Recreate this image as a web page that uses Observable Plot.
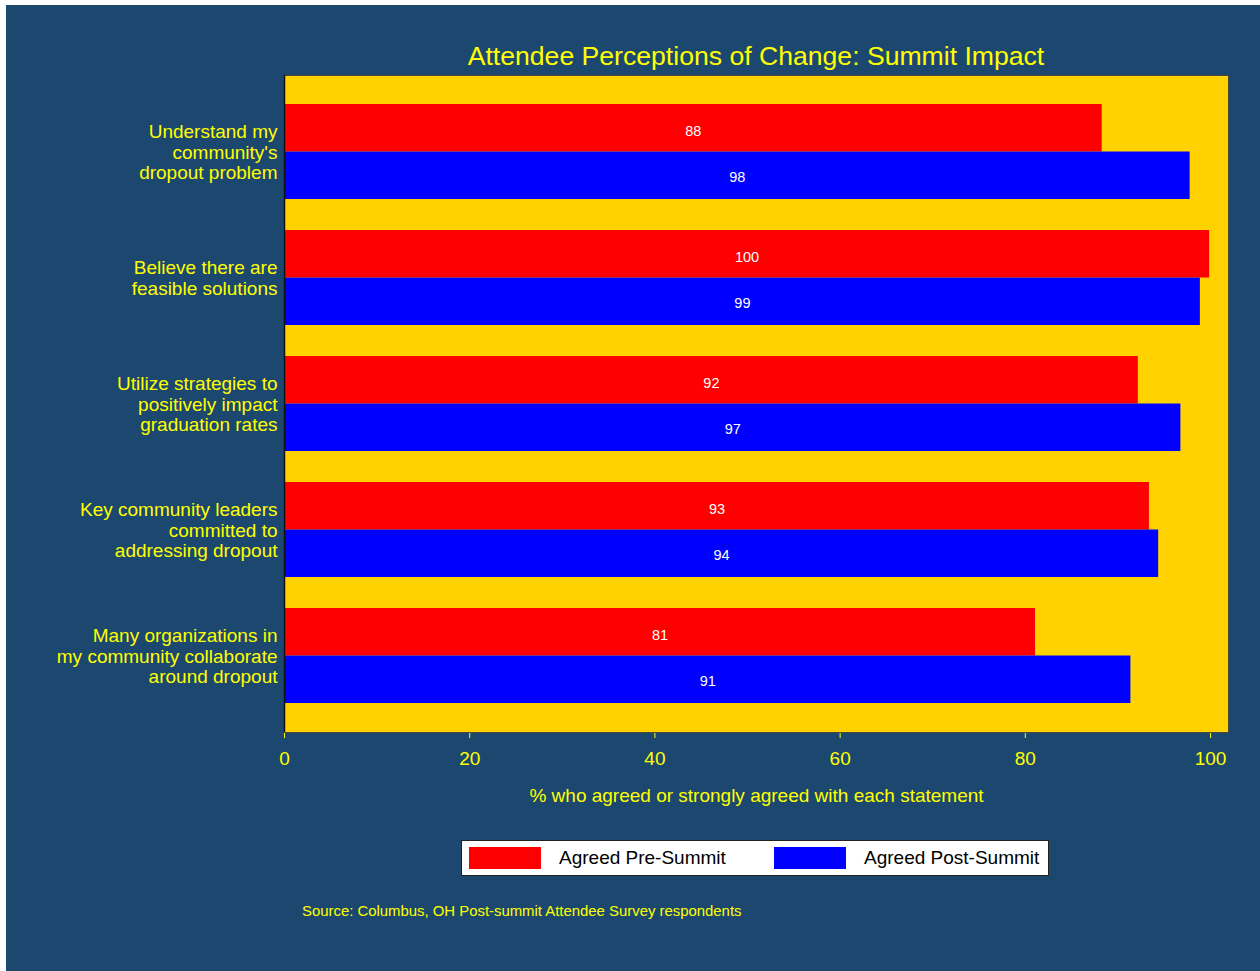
<!DOCTYPE html>
<html>
<head>
<meta charset="utf-8">
<script src="https://cdn.jsdelivr.net/npm/d3@7"></script>
<script src="https://cdn.jsdelivr.net/npm/@observablehq/plot@0.6"></script>
<style>
  html, body { margin: 0; padding: 0; background: #ffffff; }
  body { width: 1260px; height: 971px; overflow: hidden; position: relative; font-family: "Liberation Sans", Arial, sans-serif; }
  #panel { position: absolute; left: 6px; top: 5px; width: 1254px; height: 966px; background: #1c4870; }
  #title { position: absolute; left: 0; width: 1500px; top: 36px; text-align: center; color: #ffff00; font-size: 26.6px; line-height: 30px; }
  #chart { position: absolute; left: 0; top: 60px; }
  #legend { position: absolute; left: 455px; top: 835px; width: 586px; height: 34px; background: #ffffff; border: 1px solid #222; box-sizing: content-box; }
  .sw { position: absolute; top: 6px; width: 72px; height: 22px; }
  .lt { position: absolute; top: 6px; line-height: 22px; font-size: 19px; color: #000; white-space: nowrap; }
  #source { position: absolute; left: 296px; top: 897px; color: #ffff00; font-size: 14.9px; line-height: 18px; white-space: nowrap; }
</style>
</head>
<body>
<div id="panel">
  <div id="title"></div>
  <div id="chart"></div>
  <div id="legend"></div>
  <div id="source"></div>
</div>
<script>
// ---- data ----
const categories = [
  "Understand my\ncommunity's\ndropout problem",
  "Believe there are\nfeasible solutions",
  "Utilize strategies to\npositively impact\ngraduation rates",
  "Key community leaders\ncommitted to\naddressing dropout",
  "Many organizations in\nmy community collaborate\naround dropout"
];
const preValues = [88.3, 99.9, 92.2, 93.4, 81.1];
const postValues = [97.8, 98.9, 96.8, 94.4, 91.4];
const seriesNames = ["Agreed Pre-Summit", "Agreed Post-Summit"];
const seriesColors = ["#ff0000", "#0000ff"];
const xTicks = [0, 20, 40, 60, 80, 100];
const titleText = "Attendee Perceptions of Change: Summit Impact";
const xLabel = "% who agreed or strongly agreed with each statement";
const sourceText = "Source: Columbus, OH Post-summit Attendee Survey respondents";

const pre = categories.map((c, i) => ({category: c, value: preValues[i]}));
const post = categories.map((c, i) => ({category: c, value: postValues[i]}));
const fmt = d3.format(".0f");

document.getElementById("title").textContent = titleText;

const chart = Plot.plot({
  width: 1254,
  height: 760,
  marginLeft: 278,
  marginRight: 32,
  marginTop: 10,
  marginBottom: 93,
  style: {
    background: "transparent",
    color: "#ffff00",
    fontFamily: "'Liberation Sans', Arial, sans-serif",
    fontSize: "19px",
    overflow: "visible"
  },
  x: {
    domain: [0, 101.94],
    ticks: xTicks,
    tickSize: 6,
    tickPadding: 13,
    label: null
  },
  y: {
    domain: categories,
    paddingInner: 0.246,
    paddingOuter: 0.23,
    axis: null
  },
  marks: [
    Plot.frame({fill: "#ffd200", stroke: "#4a4a3a"}),
    Plot.barX(pre, {x: "value", y: "category", fill: seriesColors[0], insetBottom: 47.5}),
    Plot.barX(post, {x: "value", y: "category", fill: seriesColors[1], insetTop: 47.5}),
    Plot.ruleX([0], {stroke: "#111", strokeWidth: 1.5}),
    Plot.text(pre, {x: d => d.value / 2, y: "category", text: d => fmt(d.value), fill: "#ffffff", fontSize: 14.5, dy: -21}),
    Plot.text(post, {x: d => d.value / 2, y: "category", text: d => fmt(d.value), fill: "#ffffff", fontSize: 14.5, dy: 25}),
    Plot.text(categories, {x: 0, y: d => d, text: d => d, textAnchor: "end", dx: -7, lineHeight: 1.08, fill: "#ffff00", fontSize: 19}),
    Plot.text([xLabel], {frameAnchor: "bottom", text: d => d, dy: 69, fill: "#ffff00", fontSize: 19})
  ]
});
document.getElementById("chart").appendChild(chart);

// legend
const legend = document.getElementById("legend");
const swLeft = [7, 312];
const txLeft = [97, 402];
seriesNames.forEach((name, i) => {
  const sw = document.createElement("div");
  sw.className = "sw";
  sw.style.left = swLeft[i] + "px";
  sw.style.background = seriesColors[i];
  legend.appendChild(sw);
  const lt = document.createElement("div");
  lt.className = "lt";
  lt.style.left = txLeft[i] + "px";
  lt.textContent = name;
  legend.appendChild(lt);
});
document.getElementById("source").textContent = sourceText;
</script>
</body>
</html>
